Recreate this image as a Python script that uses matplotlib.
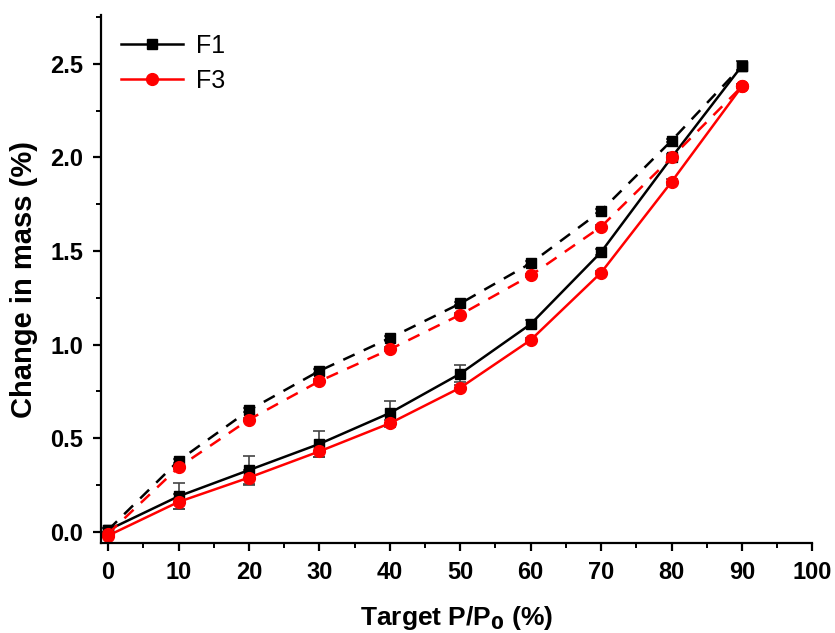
import matplotlib.pyplot as plt
from matplotlib.ticker import MultipleLocator
from matplotlib.lines import Line2D

# relative humidity targets (%)
rh = [0, 10, 20, 30, 40, 50, 60, 70, 80, 90]

# sorption (solid) and desorption (dashed) mass change, %
f1_sorp = [0.01, 0.19, 0.33, 0.47, 0.635, 0.845, 1.11, 1.495, 2.00, 2.49]
f1_sorp_err = [0.01, 0.07, 0.075, 0.07, 0.065, 0.045, 0.02, 0.015, 0.02, 0.025]
f3_sorp = [-0.02, 0.16, 0.29, 0.43, 0.58, 0.77, 1.025, 1.385, 1.87, 2.38]
f3_sorp_err = [0.01, 0.04, 0.04, 0.03, 0.02, 0.015, 0.01, 0.01, 0.015, 0.01]

f1_desorp = [0.01, 0.38, 0.65, 0.86, 1.035, 1.22, 1.435, 1.715, 2.09, 2.49]
f1_desorp_err = [0.01, 0.01, 0.01, 0.01, 0.01, 0.01, 0.01, 0.01, 0.01, 0.025]
f3_desorp = [-0.01, 0.345, 0.60, 0.805, 0.975, 1.16, 1.37, 1.63, 2.00, 2.38]
f3_desorp_err = [0.01, 0.01, 0.01, 0.01, 0.01, 0.01, 0.01, 0.01, 0.01, 0.01]

plt.rcParams['font.family'] = ['Liberation Sans', 'DejaVu Sans']

fig = plt.figure(figsize=(8.35, 6.33), dpi=100)
ax = fig.add_axes([0.121, 0.142, 0.852, 0.834])

errkw = dict(ecolor='#444444', elinewidth=1.2, capsize=4, capthick=1.2)

ax.errorbar(rh, f1_sorp, yerr=f1_sorp_err, color='black', lw=1.8,
            marker='s', ms=7.5, **errkw)
ax.errorbar(rh, f3_sorp, yerr=f3_sorp_err, color='red', lw=1.8,
            marker='o', ms=8.5, **errkw)
ax.errorbar(rh, f1_desorp, yerr=f1_desorp_err, color='black', lw=1.8,
            ls=(0, (5, 4)), marker='s', ms=7.5, **errkw)
ax.errorbar(rh, f3_desorp, yerr=f3_desorp_err, color='red', lw=1.8,
            ls=(0, (5, 4)), marker='o', ms=8.5, **errkw)

ax.set_xlim(-1, 100)
ax.set_ylim(-0.06, 2.76)
ax.xaxis.set_major_locator(MultipleLocator(10))
ax.xaxis.set_minor_locator(MultipleLocator(5))
ax.yaxis.set_major_locator(MultipleLocator(0.5))
ax.yaxis.set_minor_locator(MultipleLocator(0.25))
ax.yaxis.set_major_formatter(plt.FormatStrFormatter('%.1f'))

for s in ['top', 'right']:
    ax.spines[s].set_visible(False)
for s in ['left', 'bottom']:
    ax.spines[s].set_linewidth(1.6)

ax.tick_params(which='major', direction='out', length=6, width=1.6)
ax.tick_params(which='minor', direction='out', length=3.5, width=1.4)
ax.tick_params(axis='x', which='major', pad=7)
ax.tick_params(axis='y', which='major', pad=7)

for lbl in ax.get_yticklabels() + ax.get_xticklabels():
    lbl.set_fontsize(17)
    lbl.set_fontweight('bold')

ax.set_ylabel('Change in mass (%)', fontsize=21, fontweight='bold')
ax.yaxis.set_label_coords(-0.088, 0.5)
ax.set_xlabel('Target P/P$_\\mathbf{0}$ (%)', fontsize=19, fontweight='bold')
ax.xaxis.set_label_coords(0.5, -0.115)

handles = [Line2D([], [], color='black', lw=1.8, marker='s', ms=7.5),
           Line2D([], [], color='red', lw=1.8, marker='o', ms=8.5)]
ax.legend(handles, ['F1', 'F3'], loc='upper left',
          bbox_to_anchor=(0.028, 0.965), borderaxespad=0, borderpad=0,
          frameon=False, fontsize=18, handlelength=2.5, handletextpad=0.5,
          labelspacing=0.45)

fig.savefig('out.png', dpi=100)
